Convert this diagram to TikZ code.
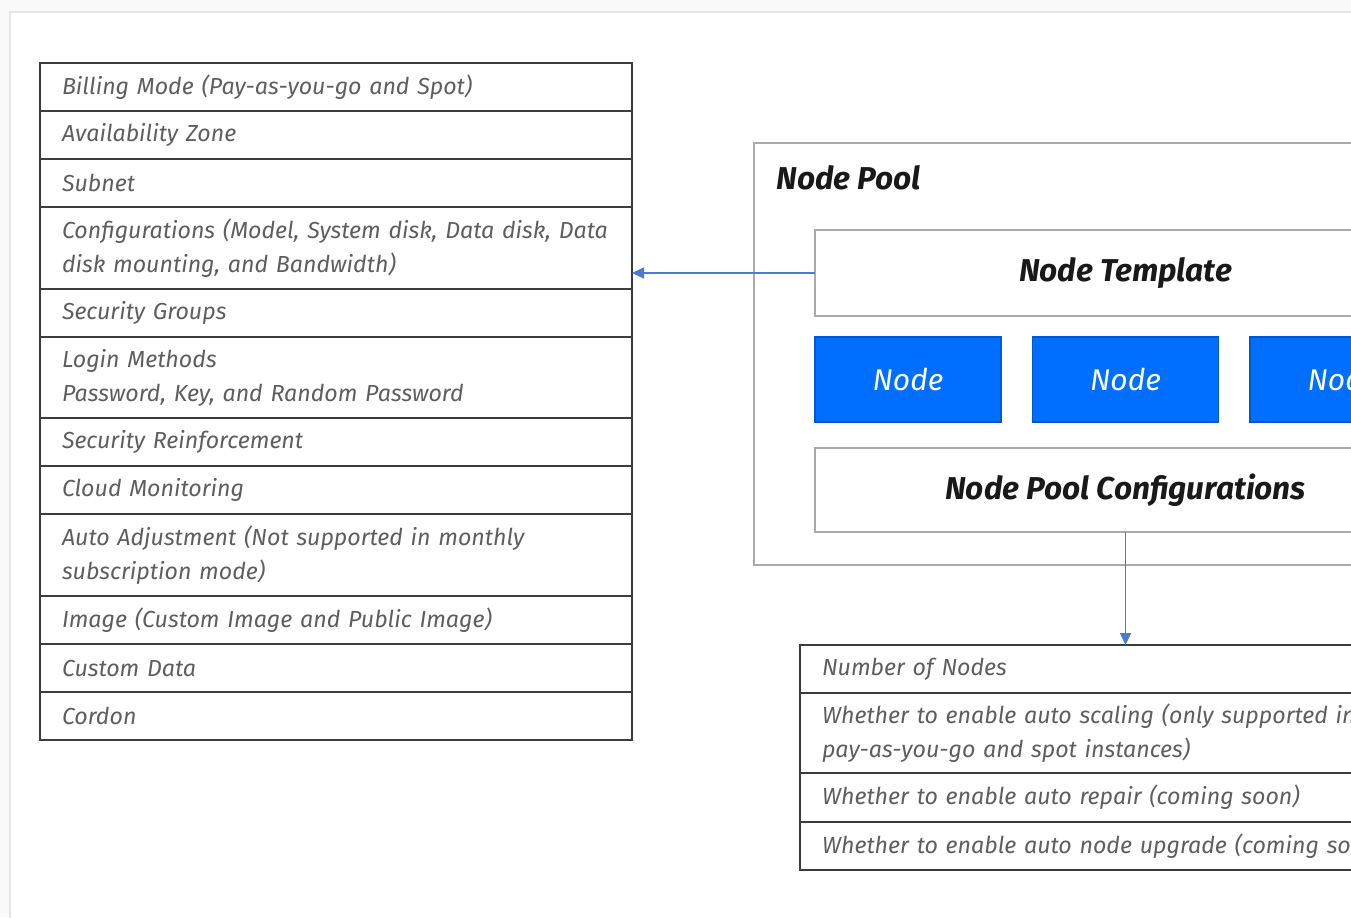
\documentclass[tikz,border=0pt]{standalone}
\usepackage{fontspec}
\setmainfont{Fira Sans}
\usetikzlibrary{arrows.meta,positioning}
\definecolor{tcblue}{HTML}{006EFF}
\definecolor{linkblue}{HTML}{4A7BD0}
\definecolor{rowtext}{HTML}{5E5E5E}
\definecolor{rowline}{HTML}{3C3C3C}
\definecolor{poolline}{HTML}{AAAAAA}
\tikzset{
cellrow/.style={draw=rowline,line width=1pt,outer sep=0pt,minimum width=296pt,minimum height=24pt,text width=274pt,inner xsep=11pt,inner ysep=0pt,align=left,text=rowtext,font=\itshape\fontsize{11.6}{17}\selectfont},
tallrow/.style={cellrow,minimum height=41pt},
poolframe/.style={draw=poolline,line width=1.2pt,outer sep=0pt,anchor=north west,fill=white},
titletext/.style={font=\bfseries\itshape\fontsize{15.8}{18}\selectfont,text=black!90},
workernode/.style={fill=tcblue,draw=tcblue!80!black,line width=0.6pt,outer sep=0pt,anchor=north west,minimum width=93pt,minimum height=42.5pt,text=white,font=\itshape\fontsize{15}{18}\selectfont},
link/.style={-{Triangle[length=6pt,width=5.5pt]},draw=linkblue,line width=0.8pt}
}
\begin{document}
\begin{tikzpicture}[x=0.5pt,y=-0.5pt,node distance=0pt]
\useasboundingbox (0,0) rectangle (1351,917);
\clip (0,0) rectangle (1351,917);
\fill[gray!5] (0,0) rectangle (1351,917);
\fill[white] (10,12) rectangle (1400,960);
\draw[gray!20,line width=1pt] (10,960) -- (10,12) -- (1400,12);
% left table: node template settings
\node[cellrow,anchor=north west](bill) at (40,63){Billing Mode (Pay-as-you-go and Spot)};
\node[cellrow,below=of bill](zone){Availability Zone};
\node[cellrow,below=of zone](subnet){Subnet};
\node[tallrow,below=of subnet](cfg){Configurations (Model, System disk, Data disk, Data\\disk mounting, and Bandwidth)};
\node[cellrow,below=of cfg](secgrp){Security Groups};
\node[tallrow,minimum height=40.5pt,below=of secgrp](login){Login Methods\\Password, Key, and Random Password};
\node[cellrow,below=of login](harden){Security Reinforcement};
\node[cellrow,below=of harden](monitor){Cloud Monitoring};
\node[tallrow,below=of monitor](adjust){Auto Adjustment (Not supported in monthly\\subscription mode)};
\node[cellrow,below=of adjust](image){Image (Custom Image and Public Image)};
\node[cellrow,below=of image](udata){Custom Data};
\node[cellrow,below=of udata](cordon){Cordon};
% node pool
\node[poolframe,minimum width=371.5pt,minimum height=211pt](pool) at (754,143){};
\node[titletext,anchor=west,inner sep=0pt](pooltitle) at (776,178){Node Pool};
\node[poolframe,titletext,minimum width=310.5pt,minimum height=43pt](tmpl) at (815,230){Node Template};
\foreach \i in {0,1,2}
  \node[workernode](n\i) at ({815+\i*217.5},337){Node};
\node[poolframe,titletext,minimum width=310.5pt,minimum height=42pt](poolcfg) at (815,448){Node Pool Configurations};
% bottom table: node pool settings
\node[cellrow,anchor=north west,minimum width=325pt,text width=303pt](count) at (800,645){Number of Nodes};
\node[cellrow,minimum width=325pt,text width=303pt,minimum height=40pt,below=of count](scale){Whether to enable auto scaling (only supported in\\pay-as-you-go and spot instances)};
\node[cellrow,minimum width=325pt,text width=303pt,minimum height=24.5pt,below=of scale](repair){Whether to enable auto repair (coming soon)};
\node[cellrow,minimum width=325pt,text width=303pt,below=of repair](upgrade){Whether to enable auto node upgrade (coming soon)};
\draw[link](tmpl.west)--(tmpl.west-|cfg.east);
\draw[link](poolcfg.south)--(poolcfg.south|-count.north);
\end{tikzpicture}
\end{document}
